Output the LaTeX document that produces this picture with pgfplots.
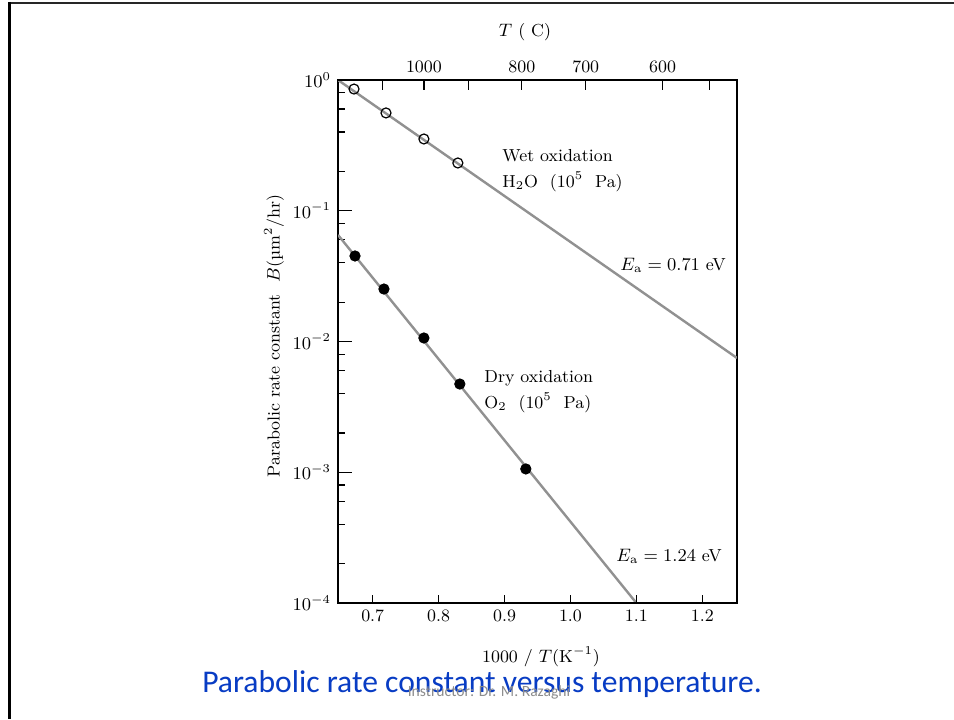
\documentclass[border=0pt]{standalone}
\usepackage{pgfplots}
\pgfplotsset{compat=1.18}
\usepackage{fontspec}
\newfontfamily\carlito{Carlito}
\definecolor{titleblue}{RGB}{8,60,196}
\definecolor{linegray}{RGB}{145,145,145}
\newcommand{\fs}{\fontsize{8.7}{10.4}\selectfont}
\begin{document}
\begin{tikzpicture}
\useasboundingbox (0,0) rectangle (477pt,-359.5pt);
\fill[white] (0,0) rectangle (477pt,-359.5pt);
\draw[line width=1pt, black!85] (4pt,-1.4pt) -- (477pt,-1.4pt);
\draw[line width=1.5pt, black] (4.6pt,-0.9pt) -- (4.6pt,-359.5pt);

% main axis: box, y ticks, data
\begin{axis}[
  at={(169pt,-301.5pt)}, anchor=south west,
  scale only axis, width=199.5pt, height=261.5pt,
  xmin=0.6474, xmax=1.2526,
  ymode=log, ymin=1e-4, ymax=1,
  axis line style={line width=0.7pt},
  xtick=\empty,
  ytick={1e-4,1e-3,1e-2,1e-1,1},
  minor ytick={2e-4,4e-4,6e-4,8e-4,2e-3,4e-3,6e-3,8e-3,2e-2,4e-2,6e-2,8e-2,0.2,0.4,0.6,0.8},
  ytick pos=left, tick align=inside,
  major tick length=7pt, minor tick length=3.5pt,
  tick style={black, line width=0.6pt},
  ticklabel style={font=\fs},
  clip=true,
]
\addplot[linegray, line width=1.2pt] coordinates {(0.6474,1) (1.2526,0.00748)};
\addplot[linegray, line width=1.2pt] coordinates {(0.6474,0.0653) (1.1,1e-4)};
\addplot[only marks, mark=o, mark size=2.5pt, mark options={fill=white, draw=black, line width=0.6pt}]
  coordinates {(0.6717,0.853) (0.7202,0.560) (0.7777,0.354) (0.8292,0.232)};
\addplot[only marks, mark=*, mark size=2.6pt, mark options={fill=black, draw=black}]
  coordinates {(0.6732,0.0451) (0.7171,0.0252) (0.7777,0.01064) (0.8322,0.00473) (0.9323,0.00106)};
\end{axis}

% bottom x axis ticks
\begin{axis}[
  at={(169pt,-301.5pt)}, anchor=south west,
  scale only axis, width=199.5pt, height=261.5pt,
  xmin=0.6474, xmax=1.2526, ymin=0, ymax=1,
  hide y axis, axis x line*=bottom,
  axis line style={-, line width=0.7pt},
  xtick={0.7,0.8,0.9,1.0,1.1,1.2},
  xticklabels={0.7,0.8,0.9,1.0,1.1,1.2},
  tick align=inside, major tick length=4pt,
  tick style={black, line width=0.6pt},
  ticklabel style={font=\fs},
]
\end{axis}

% top temperature axis
\begin{axis}[
  at={(169pt,-301.5pt)}, anchor=south west,
  scale only axis, width=199.5pt, height=261.5pt,
  xmin=0.6474, xmax=1.2526, ymin=0, ymax=1,
  hide y axis, axis x line*=top,
  axis line style={-, line width=0.7pt},
  xtick={0.7152,0.7777,0.8459,0.9262,1.0232,1.1398,1.2111},
  xticklabels={,1000,,800,700,600,},
  tick align=inside, major tick length=5pt,
  tick style={black, line width=0.6pt},
  ticklabel style={font=\fs},
]
\end{axis}

\begin{scope}[every node/.style={inner sep=0pt, font=\fs}]
\node at (262.5pt,-16pt) {$T$\ ( C)};
\node at (270.5pt,-328.5pt) {1000 / $T$(K$^{-1}$)};
\node[rotate=90] at (137pt,-168pt) {Parabolic rate constant\ \ $B$(µm$^2$/hr)};
\node[anchor=west] at (251pt,-78pt) {Wet oxidation};
\node[anchor=west] at (251pt,-91pt) {H$_2$O\ \ (10$^5$\ \ Pa)};
\node[anchor=west] at (310pt,-132.5pt) {$E_{\mathrm{a}} = 0.71$ eV};
\node[anchor=west] at (242pt,-189pt) {Dry oxidation};
\node[anchor=west] at (242pt,-201.5pt) {O$_2$\ \ (10$^5$\ \ Pa)};
\node[anchor=west] at (308pt,-278pt) {$E_{\mathrm{a}} = 1.24$ eV};
\end{scope}
\node[inner sep=0pt, text=titleblue, font=\carlito\fontsize{15.8}{18}\selectfont] at (241pt,-342pt) {Parabolic rate constant versus temperature.};
\node[inner sep=0pt, text=black!45, font=\carlito\fontsize{7.8}{9}\selectfont] at (244.5pt,-346pt) {Instructor: Dr. M. Razaghi};
\end{tikzpicture}
\end{document}
